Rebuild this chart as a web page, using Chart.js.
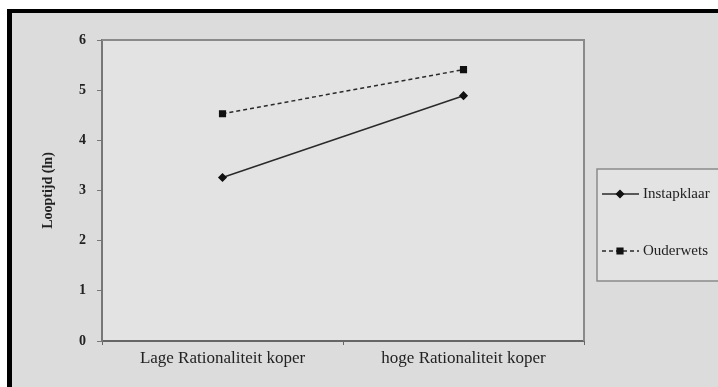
<!DOCTYPE html>
<html>
<head>
<meta charset="utf-8">
<script src="https://cdn.jsdelivr.net/npm/chart.js@4/dist/chart.umd.min.js"></script>
<style>
    html, body { margin: 0; padding: 0; background: #fff; }
    #frame {
        position: absolute; left: 7px; top: 9px; width: 800px; height: 500px;
        border-top: 4px solid #000; border-left: 5px solid #000;
        background: #dcdcdc;
    }
    #wrap { position: absolute; left: 0; top: 0; width: 718px; height: 387px; }
</style>
</head>
<body>
<div id="frame"></div>
<div id="wrap"><canvas id="lineChart" width="718" height="387"></canvas></div>
<script>
// Data
const categories = ['Lage Rationaliteit koper', 'hoge Rationaliteit koper'];
const instapklaar = [3.26, 4.89];
const ouderwets = [4.53, 5.41];
const yTicks = [0, 1, 2, 3, 4, 5, 6];

const serif = '"Liberation Serif", "Times New Roman", serif';

// Plot box background and border, plus the boxed legend on the right
const boxPlugin = {
    id: 'boxPlugin',
    beforeDraw: function (chart) {
        const ctx = chart.ctx;
        const a = chart.chartArea;
        ctx.save();
        ctx.fillStyle = '#e3e3e3';
        ctx.fillRect(a.left, a.top, a.right - a.left, a.bottom - a.top);
        ctx.restore();
    },
    afterDraw: function (chart) {
        const ctx = chart.ctx;
        const a = chart.chartArea;
        ctx.save();
        ctx.strokeStyle = '#8a8a8a';
        ctx.lineWidth = 2;
        ctx.beginPath();
        ctx.moveTo(a.left, a.top);
        ctx.lineTo(a.right, a.top);
        ctx.lineTo(a.right, a.bottom);
        ctx.stroke();

        // legend box
        ctx.fillStyle = '#e3e3e3';
        ctx.fillRect(597, 169, 130, 112);
        ctx.lineWidth = 1.5;
        ctx.strokeStyle = '#8a8a8a';
        ctx.strokeRect(597, 169, 130, 112);

        const rows = [194, 251];
        chart.data.datasets.forEach(function (ds, i) {
            const y = rows[i];
            ctx.strokeStyle = ds.borderColor;
            ctx.lineWidth = ds.borderWidth;
            ctx.setLineDash(ds.borderDash || []);
            ctx.beginPath();
            ctx.moveTo(602, y);
            ctx.lineTo(639, y);
            ctx.stroke();
            ctx.setLineDash([]);
            ctx.fillStyle = ds.pointBackgroundColor;
            ctx.strokeStyle = ds.pointBorderColor;
            Chart.helpers.drawPoint(ctx, {
                pointStyle: ds.pointStyle,
                radius: ds.pointRadius,
                borderWidth: 1
            }, 620, y);
            ctx.fillStyle = '#222';
            ctx.font = '15px ' + serif;
            ctx.textBaseline = 'middle';
            ctx.textAlign = 'left';
            ctx.fillText(ds.label, 643, y);
        });
        ctx.restore();
    }
};

const ctx = document.getElementById('lineChart');
new Chart(ctx, {
    type: 'line',
    data: {
        labels: categories,
        datasets: [{
            label: 'Instapklaar',
            data: instapklaar,
            borderColor: '#2a2a2a',
            backgroundColor: '#111',
            borderWidth: 1.5,
            pointStyle: 'rectRot',
            pointRadius: 3.5,
            pointBorderColor: '#111',
            pointBackgroundColor: '#111'
        }, {
            label: 'Ouderwets',
            data: ouderwets,
            borderColor: '#2a2a2a',
            backgroundColor: '#111',
            borderWidth: 1.5,
            borderDash: [4, 3],
            pointStyle: 'rect',
            pointRadius: 4,
            pointBorderColor: '#111',
            pointBackgroundColor: '#111'
        }]
    },
    options: {
        responsive: false,
        animation: false,
        layout: { padding: { left: 0, top: 40, right: 134, bottom: 0 } },
        plugins: {
            legend: { display: false },
            tooltip: { enabled: false }
        },
        scales: {
            x: {
                offset: true,
                afterFit: function (scale) { scale.height = 46; },
                grid: {
                    offset: true,
                    drawOnChartArea: false,
                    drawTicks: true,
                    tickLength: 4,
                    color: '#666'
                },
                border: { display: true, color: '#666', width: 2 },
                ticks: {
                    color: '#222',
                    padding: 3,
                    maxRotation: 0,
                    font: { family: serif, size: 17 }
                }
            },
            y: {
                min: 0,
                max: 6,
                afterFit: function (scale) { scale.width = 102; },
                afterBuildTicks: function (scale) {
                    scale.ticks = yTicks.map(function (v) { return { value: v }; });
                },
                grid: {
                    drawOnChartArea: false,
                    drawTicks: true,
                    tickLength: 5,
                    color: '#777'
                },
                border: { display: true, color: '#777', width: 2 },
                ticks: {
                    color: '#222',
                    padding: 11,
                    font: { family: serif, size: 14, weight: 'bold' }
                },
                title: {
                    display: true,
                    text: 'Looptijd (ln)',
                    color: '#222',
                    padding: { top: 40, bottom: 0 },
                    font: { family: serif, size: 14, weight: 'bold' }
                }
            }
        }
    },
    plugins: [boxPlugin]
});
</script>
</body>
</html>
